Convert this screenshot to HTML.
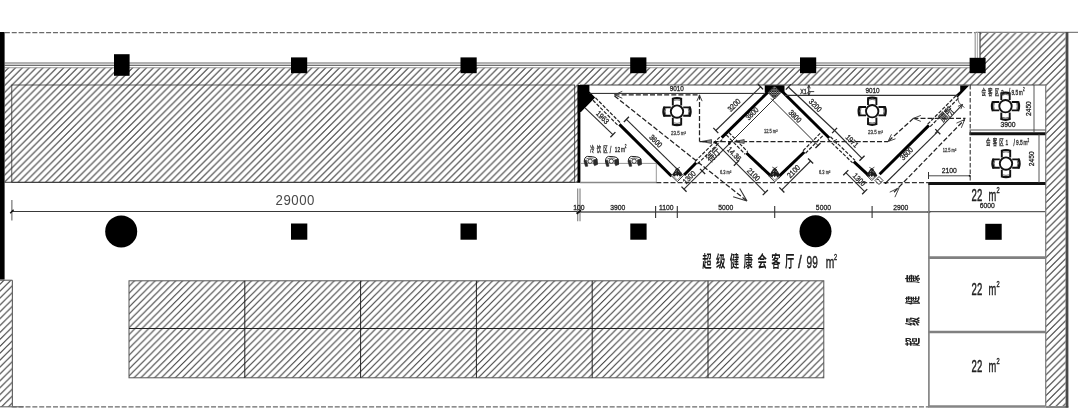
<!DOCTYPE html>
<html lang="zh"><head><meta charset="utf-8"><title>plan</title>
<style>html,body{margin:0;padding:0;background:#fff;}svg{display:block;}text{font-family:"Liberation Sans", "Noto Sans CJK SC", sans-serif;}</style></head><body>
<svg width="1080" height="416" viewBox="0 0 1080 416">
<defs><pattern id="h" width="6.895" height="6.895" patternUnits="userSpaceOnUse"><path d="M-1,1.470 L1.470,-1 M-1,8.365 L8.365,-1 M-1,15.260 L15.260,-1" stroke="#3c3c3c" stroke-width="1.08" fill="none"/></pattern><pattern id="hb" width="6.886" height="6.886" patternUnits="userSpaceOnUse"><path d="M-1,3.120 L3.120,-1 M-1,10.006 L10.006,-1 M-1,16.892 L16.892,-1" stroke="#3c3c3c" stroke-width="1.08" fill="none"/></pattern><pattern id="hl" width="6.9" height="6.9" patternUnits="userSpaceOnUse"><path d="M-1,2.300 L2.300,-1 M-1,9.200 L9.200,-1 M-1,16.100 L16.100,-1" stroke="#3c3c3c" stroke-width="1.08" fill="none"/></pattern><pattern id="x" width="2.4" height="2.4" patternUnits="userSpaceOnUse"><rect width="2.4" height="2.4" fill="#fff"/><path d="M0,0 L2.4,2.4 M2.4,0 L0,2.4" stroke="#111" stroke-width="0.85" fill="none"/></pattern><filter id="idf" x="0" y="0" width="1080" height="416" filterUnits="userSpaceOnUse" color-interpolation-filters="sRGB"><feOffset dx="0" dy="0"/></filter></defs>
<rect width="1080" height="416" fill="#fff"/>
<g filter="url(#idf)" style="will-change:transform">
<path d="M4.6,67.6 L980,67.6 L980,32 L1065.6,32 L1065.6,406 L1046,406 L1046,85 L578,85 L578,182.3 L4.6,182.3 Z" fill="url(#h)"/>
<line x1="4.60" y1="67.70" x2="970.00" y2="67.70" stroke="#999" stroke-width="1.1"/>
<line x1="4.60" y1="182.30" x2="578.00" y2="182.30" stroke="#444" stroke-width="1"/>
<line x1="580.00" y1="85.00" x2="1046.00" y2="85.00" stroke="#444" stroke-width="1"/>
<rect x="11.80" y="85.00" width="562.90" height="97.30" fill="none" stroke="#333" stroke-width="0.8"/>
<rect x="0.00" y="280.20" width="12.40" height="126.60" fill="url(#hl)"/>
<line x1="0.00" y1="280.20" x2="12.40" y2="280.20" stroke="#555" stroke-width="1"/>
<line x1="12.40" y1="280.20" x2="12.40" y2="406.80" stroke="#666" stroke-width="1.2"/>
<line x1="0.00" y1="406.80" x2="12.40" y2="406.80" stroke="#666" stroke-width="1.1"/>
<rect x="129.00" y="280.80" width="694.80" height="97.00" fill="url(#hb)" stroke="#555" stroke-width="1"/>
<line x1="129.00" y1="328.50" x2="823.80" y2="328.50" stroke="#222" stroke-width="1"/>
<line x1="244.80" y1="280.80" x2="244.80" y2="377.80" stroke="#222" stroke-width="1"/>
<line x1="360.60" y1="280.80" x2="360.60" y2="377.80" stroke="#222" stroke-width="1"/>
<line x1="476.40" y1="280.80" x2="476.40" y2="377.80" stroke="#222" stroke-width="1"/>
<line x1="592.20" y1="280.80" x2="592.20" y2="377.80" stroke="#222" stroke-width="1"/>
<line x1="708.00" y1="280.80" x2="708.00" y2="377.80" stroke="#222" stroke-width="1"/>
<line x1="4.85" y1="32.60" x2="975.70" y2="32.60" stroke="#6a6a6a" stroke-width="1.2" stroke-dasharray="5.02 1.853"/>
<line x1="975.70" y1="32.40" x2="1078.00" y2="32.40" stroke="#808080" stroke-width="1.1"/>
<line x1="4.60" y1="63.00" x2="970.00" y2="63.00" stroke="#999" stroke-width="1.4"/>
<line x1="4.60" y1="65.30" x2="970.00" y2="65.30" stroke="#404040" stroke-width="1.1"/>
<line x1="975.20" y1="32.00" x2="975.20" y2="58.00" stroke="#999" stroke-width="1.2"/>
<line x1="977.40" y1="32.00" x2="977.40" y2="58.00" stroke="#aaa" stroke-width="1.0"/>
<line x1="980.00" y1="32.00" x2="980.00" y2="58.00" stroke="#444" stroke-width="1.2"/>
<line x1="1067.00" y1="32.00" x2="1067.00" y2="407.60" stroke="#4a4a4a" stroke-width="2.8"/>
<line x1="11.72" y1="406.80" x2="928.50" y2="406.80" stroke="#6a6a6a" stroke-width="1.2" stroke-dasharray="5.02 1.853"/>
<line x1="12.50" y1="406.80" x2="23.50" y2="406.80" stroke="#6a6a6a" stroke-width="1.2"/>
<line x1="928.00" y1="406.50" x2="1045.70" y2="406.50" stroke="#858585" stroke-width="2.6"/>
<line x1="1045.70" y1="407.00" x2="1068.40" y2="407.00" stroke="#444" stroke-width="1.3"/>
<rect x="0.00" y="32.00" width="4.60" height="247.50" fill="#000"/>
<rect x="114.00" y="54.20" width="15.60" height="21.60" fill="#000"/>
<rect x="291.00" y="57.40" width="16.20" height="15.80" fill="#000"/>
<rect x="460.50" y="57.40" width="16.20" height="15.80" fill="#000"/>
<rect x="630.20" y="57.40" width="16.20" height="15.80" fill="#000"/>
<rect x="800.00" y="57.40" width="16.20" height="15.80" fill="#000"/>
<rect x="969.60" y="57.80" width="16.00" height="15.40" fill="#000"/>
<rect x="291.00" y="223.50" width="16.30" height="16.20" fill="#000"/>
<rect x="460.50" y="223.50" width="16.30" height="16.20" fill="#000"/>
<rect x="630.30" y="223.50" width="16.30" height="16.20" fill="#000"/>
<rect x="985.30" y="223.80" width="16.40" height="16.00" fill="#000"/>
<circle cx="121.2" cy="231.4" r="16" fill="#000"/>
<circle cx="815.5" cy="231.3" r="16" fill="#000"/>
<line x1="11.90" y1="211.50" x2="578.00" y2="211.50" stroke="#222" stroke-width="0.9"/>
<line x1="578.00" y1="212.00" x2="929.00" y2="212.00" stroke="#555" stroke-width="1.3"/>
<line x1="928.50" y1="211.70" x2="1045.40" y2="211.70" stroke="#333" stroke-width="1"/>
<line x1="11.90" y1="200.00" x2="11.90" y2="220.50" stroke="#444" stroke-width="0.9"/>
<line x1="10.20" y1="213.20" x2="13.60" y2="209.80" stroke="#111" stroke-width="1.4"/>
<line x1="577.70" y1="188.40" x2="577.70" y2="221.20" stroke="#888" stroke-width="1.2"/>
<line x1="580.00" y1="188.40" x2="580.00" y2="221.20" stroke="#888" stroke-width="1.2"/>
<line x1="576.60" y1="213.80" x2="581.00" y2="210.20" stroke="#111" stroke-width="2"/>
<line x1="655.60" y1="206.00" x2="655.60" y2="218.00" stroke="#333" stroke-width="1.1"/>
<line x1="677.30" y1="206.00" x2="677.30" y2="218.00" stroke="#333" stroke-width="1.1"/>
<line x1="774.70" y1="206.00" x2="774.70" y2="218.00" stroke="#333" stroke-width="1.1"/>
<line x1="872.10" y1="206.00" x2="872.10" y2="218.00" stroke="#333" stroke-width="1.1"/>
<circle cx="929" cy="212" r="1.3" fill="#111"/>
<circle cx="929" cy="183.4" r="1.0" fill="#111"/>
<text transform="translate(295.20,199.50) scale(0.86,1)" font-size="15.4" text-anchor="middle" fill="#4a4a4a" font-weight="normal" dominant-baseline="central" letter-spacing="0.6" stroke="#4a4a4a" stroke-width="0" >29000</text>
<text transform="translate(578.80,207.00) scale(0.85,1)" font-size="8" text-anchor="middle" fill="#222" font-weight="normal" dominant-baseline="central" stroke="#222" stroke-width="0.3" >100</text>
<text transform="translate(617.70,207.00) scale(0.85,1)" font-size="8" text-anchor="middle" fill="#222" font-weight="normal" dominant-baseline="central" stroke="#222" stroke-width="0.3" >3900</text>
<text transform="translate(666.30,207.00) scale(0.85,1)" font-size="8" text-anchor="middle" fill="#222" font-weight="normal" dominant-baseline="central" stroke="#222" stroke-width="0.3" >1100</text>
<text transform="translate(725.70,207.00) scale(0.85,1)" font-size="8" text-anchor="middle" fill="#222" font-weight="normal" dominant-baseline="central" stroke="#222" stroke-width="0.3" >5000</text>
<text transform="translate(823.40,207.00) scale(0.85,1)" font-size="8" text-anchor="middle" fill="#222" font-weight="normal" dominant-baseline="central" stroke="#222" stroke-width="0.3" >5000</text>
<text transform="translate(900.80,207.00) scale(0.85,1)" font-size="8" text-anchor="middle" fill="#222" font-weight="normal" dominant-baseline="central" stroke="#222" stroke-width="0.3" >2900</text>
<line x1="928.90" y1="183.00" x2="928.90" y2="406.00" stroke="#858585" stroke-width="1.7"/>
<line x1="1045.70" y1="85.00" x2="1045.70" y2="406.00" stroke="#808080" stroke-width="1.3"/>
<line x1="969.50" y1="133.70" x2="1045.40" y2="133.70" stroke="#111" stroke-width="3.0"/>
<line x1="969.50" y1="130.00" x2="1045.40" y2="130.00" stroke="#555" stroke-width="1.1"/>
<line x1="928.40" y1="183.50" x2="1045.40" y2="183.50" stroke="#111" stroke-width="2.8"/>
<line x1="928.50" y1="257.60" x2="1045.40" y2="257.60" stroke="#808080" stroke-width="2.8"/>
<line x1="928.50" y1="332.00" x2="1045.40" y2="332.00" stroke="#808080" stroke-width="2.4"/>
<line x1="1034.00" y1="85.00" x2="1034.00" y2="133.00" stroke="#444" stroke-width="0.9"/>
<line x1="1039.00" y1="134.00" x2="1039.00" y2="183.00" stroke="#444" stroke-width="0.9"/>
<line x1="970.20" y1="85.00" x2="970.20" y2="182.50" stroke="#333" stroke-width="1.1" stroke-dasharray="4.5 2"/>
<line x1="928.50" y1="175.80" x2="969.70" y2="175.80" stroke="#333" stroke-width="0.9"/>
<line x1="928.50" y1="172.00" x2="928.50" y2="179.00" stroke="#333" stroke-width="1"/>
<circle cx="969.7" cy="175.8" r="1" fill="#111"/>
<text transform="translate(949.20,170.60) scale(0.85,1)" font-size="8" text-anchor="middle" fill="#222" font-weight="normal" dominant-baseline="central" stroke="#222" stroke-width="0.3" >2100</text>
<text transform="translate(949.50,150.20) scale(0.8,1)" font-size="5" text-anchor="middle" fill="#444" font-weight="normal" dominant-baseline="central" stroke="#444" stroke-width="0.3" >12.5 m²</text>
<g transform="translate(1005.50,106.20)" fill="none" stroke="#111">
<g transform="rotate(0)"><path d="M-4.2,-6.2 L-4.2,-13 M4.2,-6.2 L4.2,-13" stroke-width="1.9"/><path d="M-4.9,-12.6 Q0,-14.6 4.9,-12.6" stroke-width="2.2"/><path d="M-3.4,-11.2 Q0,-12.4 3.4,-11.2" stroke-width="0.6"/></g>
<g transform="rotate(90)"><path d="M-4.2,-6.2 L-4.2,-13 M4.2,-6.2 L4.2,-13" stroke-width="1.9"/><path d="M-4.9,-12.6 Q0,-14.6 4.9,-12.6" stroke-width="2.2"/><path d="M-3.4,-11.2 Q0,-12.4 3.4,-11.2" stroke-width="0.6"/></g>
<g transform="rotate(180)"><path d="M-4.2,-6.2 L-4.2,-13 M4.2,-6.2 L4.2,-13" stroke-width="1.9"/><path d="M-4.9,-12.6 Q0,-14.6 4.9,-12.6" stroke-width="2.2"/><path d="M-3.4,-11.2 Q0,-12.4 3.4,-11.2" stroke-width="0.6"/></g>
<g transform="rotate(270)"><path d="M-4.2,-6.2 L-4.2,-13 M4.2,-6.2 L4.2,-13" stroke-width="1.9"/><path d="M-4.9,-12.6 Q0,-14.6 4.9,-12.6" stroke-width="2.2"/><path d="M-3.4,-11.2 Q0,-12.4 3.4,-11.2" stroke-width="0.6"/></g>
<circle r="6.2" stroke-width="1.9" fill="#fff"/>
</g>
<g transform="translate(1006.00,163.60)" fill="none" stroke="#111">
<g transform="rotate(0)"><path d="M-4.2,-6.2 L-4.2,-13 M4.2,-6.2 L4.2,-13" stroke-width="1.9"/><path d="M-4.9,-12.6 Q0,-14.6 4.9,-12.6" stroke-width="2.2"/><path d="M-3.4,-11.2 Q0,-12.4 3.4,-11.2" stroke-width="0.6"/></g>
<g transform="rotate(90)"><path d="M-4.2,-6.2 L-4.2,-13 M4.2,-6.2 L4.2,-13" stroke-width="1.9"/><path d="M-4.9,-12.6 Q0,-14.6 4.9,-12.6" stroke-width="2.2"/><path d="M-3.4,-11.2 Q0,-12.4 3.4,-11.2" stroke-width="0.6"/></g>
<g transform="rotate(180)"><path d="M-4.2,-6.2 L-4.2,-13 M4.2,-6.2 L4.2,-13" stroke-width="1.9"/><path d="M-4.9,-12.6 Q0,-14.6 4.9,-12.6" stroke-width="2.2"/><path d="M-3.4,-11.2 Q0,-12.4 3.4,-11.2" stroke-width="0.6"/></g>
<g transform="rotate(270)"><path d="M-4.2,-6.2 L-4.2,-13 M4.2,-6.2 L4.2,-13" stroke-width="1.9"/><path d="M-4.9,-12.6 Q0,-14.6 4.9,-12.6" stroke-width="2.2"/><path d="M-3.4,-11.2 Q0,-12.4 3.4,-11.2" stroke-width="0.6"/></g>
<circle r="6.2" stroke-width="1.9" fill="#fff"/>
</g>
<text transform="translate(981.40,95.00) scale(0.54,1)" font-size="8.2" letter-spacing="4.1" fill="#333" stroke="#333" stroke-width="0.4">会客区</text>
<text transform="translate(1001.00,95.00) scale(0.6,1)" font-size="8" fill="#333" stroke="#333" stroke-width="0.4">2</text>
<text transform="translate(1008.80,95.30) scale(0.6,1)" font-size="8.6" fill="#333" stroke="#333" stroke-width="0.4">/</text>
<text transform="translate(1011.40,95.00) scale(0.6,1)" font-size="8" fill="#333" stroke="#333" stroke-width="0.4">9.5</text>
<text transform="translate(1018.80,95.00) scale(0.6,1)" font-size="8" fill="#333" stroke="#333" stroke-width="0.4">m</text>
<text transform="translate(1023.00,91.40) scale(0.6,1)" font-size="5" fill="#333" stroke="#333" stroke-width="0.4">2</text>
<text transform="translate(986.00,145.30) scale(0.54,1)" font-size="8.2" letter-spacing="4.1" fill="#333" stroke="#333" stroke-width="0.4">会客区</text>
<text transform="translate(1005.60,145.30) scale(0.6,1)" font-size="8" fill="#333" stroke="#333" stroke-width="0.4">1</text>
<text transform="translate(1013.40,145.60) scale(0.6,1)" font-size="8.6" fill="#333" stroke="#333" stroke-width="0.4">/</text>
<text transform="translate(1016.00,145.30) scale(0.6,1)" font-size="8" fill="#333" stroke="#333" stroke-width="0.4">9.5</text>
<text transform="translate(1023.40,145.30) scale(0.6,1)" font-size="8" fill="#333" stroke="#333" stroke-width="0.4">m</text>
<text transform="translate(1027.60,141.70) scale(0.6,1)" font-size="5" fill="#333" stroke="#333" stroke-width="0.4">2</text>
<text transform="translate(1028.40,108.60) rotate(-90) scale(0.85,1)" font-size="7.8" text-anchor="middle" fill="#222" font-weight="normal" dominant-baseline="central" stroke="#222" stroke-width="0.3" >2450</text>
<text transform="translate(1031.20,158.80) rotate(-90) scale(0.85,1)" font-size="7.8" text-anchor="middle" fill="#222" font-weight="normal" dominant-baseline="central" stroke="#222" stroke-width="0.3" >2450</text>
<text transform="translate(1008.00,124.20) scale(0.85,1)" font-size="8" text-anchor="middle" fill="#222" font-weight="normal" dominant-baseline="central" stroke="#222" stroke-width="0.3" >3900</text>
<text transform="translate(987.30,205.80) scale(0.85,1)" font-size="8" text-anchor="middle" fill="#222" font-weight="normal" dominant-baseline="central" stroke="#222" stroke-width="0.3" >6000</text>
<text transform="translate(971.60,201.00) scale(0.58,1)" font-size="16.5" fill="#222" stroke="#222" stroke-width="0.45">22</text>
<text transform="translate(988.60,201.00) scale(0.56,1)" font-size="16.5" fill="#222" stroke="#222" stroke-width="0.45">m</text>
<text transform="translate(996.50,192.80) scale(0.6,1)" font-size="9.4" fill="#222" stroke="#222" stroke-width="0.45">2</text>
<text transform="translate(971.60,295.30) scale(0.58,1)" font-size="16.5" fill="#222" stroke="#222" stroke-width="0.45">22</text>
<text transform="translate(988.60,295.30) scale(0.56,1)" font-size="16.5" fill="#222" stroke="#222" stroke-width="0.45">m</text>
<text transform="translate(996.50,287.10) scale(0.6,1)" font-size="9.4" fill="#222" stroke="#222" stroke-width="0.45">2</text>
<text transform="translate(971.60,371.90) scale(0.58,1)" font-size="16.5" fill="#222" stroke="#222" stroke-width="0.45">22</text>
<text transform="translate(988.60,371.90) scale(0.56,1)" font-size="16.5" fill="#222" stroke="#222" stroke-width="0.45">m</text>
<text transform="translate(996.50,363.70) scale(0.6,1)" font-size="9.4" fill="#222" stroke="#222" stroke-width="0.45">2</text>
<text transform="translate(913.2,278.8) rotate(-90) scale(0.58,1)" font-size="15" text-anchor="middle" dominant-baseline="central" fill="#222" font-weight="700">康</text>
<text transform="translate(913.2,300.4) rotate(-90) scale(0.58,1)" font-size="15" text-anchor="middle" dominant-baseline="central" fill="#222" font-weight="700">健</text>
<text transform="translate(913.2,321.3) rotate(-90) scale(0.58,1)" font-size="15" text-anchor="middle" dominant-baseline="central" fill="#222" font-weight="700">级</text>
<text transform="translate(913.2,341.8) rotate(-90) scale(0.58,1)" font-size="15" text-anchor="middle" dominant-baseline="central" fill="#222" font-weight="700">超</text>
<text transform="translate(702.2,261.2) scale(0.6,1)" font-size="15.6" fill="#1a1a1a" dominant-baseline="central" letter-spacing="7.4" font-weight="700">超级健康会客厅</text>
<text transform="translate(798.0,267.9) scale(0.75,1)" font-size="18" stroke="#222" stroke-width="0.45" fill="#222">/</text>
<text transform="translate(806.6,267.9) scale(0.58,1)" font-size="17.4" stroke="#222" stroke-width="0.45" fill="#222">99</text>
<text transform="translate(825.8,267.9) scale(0.62,1)" font-size="16.5" stroke="#222" stroke-width="0.45" fill="#222">m</text>
<text transform="translate(833.9,259.8) scale(0.6,1)" font-size="9.2" stroke="#222" stroke-width="0.45" fill="#222">2</text>
<rect x="577.50" y="85.00" width="2.90" height="97.80" fill="#000"/>
<line x1="580.00" y1="163.40" x2="656.30" y2="163.40" stroke="#999" stroke-width="1.0"/>
<line x1="656.30" y1="163.40" x2="656.30" y2="182.40" stroke="#999" stroke-width="1.0"/>
<line x1="580.00" y1="182.50" x2="656.30" y2="182.50" stroke="#888" stroke-width="1.3"/>
<line x1="656.30" y1="182.60" x2="929.40" y2="182.60" stroke="#333" stroke-width="1.3" stroke-dasharray="5 2.1"/>
<g transform="translate(591.00,161.40)" fill="none" stroke="#222" stroke-width="1"><path d="M-6.7,1 Q-7,-4.4 -3.6,-5 L1.6,-4.7 Q5.4,-4.2 5.9,-2.4 L6.3,3"/><path d="M-4.6,-2.6 Q-2,-3.8 2.4,-3.2" stroke-width="0.7"/><path d="M-6.7,-0.8 L-4.7,-1.4 L-3.5,3 L-3.2,4.8 L-5.5,5 L-6.5,2 Z" fill="#2a2a2a" stroke-width="0.5"/><path d="M2.3,-1.5 L5.8,-2.6 L6.3,3.2 L3.5,4.3 L2.5,2 Z" fill="#2a2a2a" stroke-width="0.5"/><circle cx="-0.9" cy="-0.2" r="2.2" fill="#fff" stroke-width="0.9"/></g>
<g transform="translate(612.20,161.40)" fill="none" stroke="#222" stroke-width="1"><path d="M-6.7,1 Q-7,-4.4 -3.6,-5 L1.6,-4.7 Q5.4,-4.2 5.9,-2.4 L6.3,3"/><path d="M-4.6,-2.6 Q-2,-3.8 2.4,-3.2" stroke-width="0.7"/><path d="M-6.7,-0.8 L-4.7,-1.4 L-3.5,3 L-3.2,4.8 L-5.5,5 L-6.5,2 Z" fill="#2a2a2a" stroke-width="0.5"/><path d="M2.3,-1.5 L5.8,-2.6 L6.3,3.2 L3.5,4.3 L2.5,2 Z" fill="#2a2a2a" stroke-width="0.5"/><circle cx="-0.9" cy="-0.2" r="2.2" fill="#fff" stroke-width="0.9"/></g>
<g transform="translate(635.00,161.40)" fill="none" stroke="#222" stroke-width="1"><path d="M-6.7,1 Q-7,-4.4 -3.6,-5 L1.6,-4.7 Q5.4,-4.2 5.9,-2.4 L6.3,3"/><path d="M-4.6,-2.6 Q-2,-3.8 2.4,-3.2" stroke-width="0.7"/><path d="M-6.7,-0.8 L-4.7,-1.4 L-3.5,3 L-3.2,4.8 L-5.5,5 L-6.5,2 Z" fill="#2a2a2a" stroke-width="0.5"/><path d="M2.3,-1.5 L5.8,-2.6 L6.3,3.2 L3.5,4.3 L2.5,2 Z" fill="#2a2a2a" stroke-width="0.5"/><circle cx="-0.9" cy="-0.2" r="2.2" fill="#fff" stroke-width="0.9"/></g>
<text transform="translate(590.00,151.90) scale(0.54,1)" font-size="8.2" letter-spacing="4.1" fill="#333" stroke="#333" stroke-width="0.4">冷饮区</text>
<text transform="translate(609.80,152.50) scale(0.6,1)" font-size="9.4" fill="#333" stroke="#333" stroke-width="0.4">/</text>
<text transform="translate(614.80,151.90) scale(0.6,1)" font-size="8" fill="#333" stroke="#333" stroke-width="0.4">12</text>
<text transform="translate(621.00,151.90) scale(0.6,1)" font-size="8" fill="#333" stroke="#333" stroke-width="0.4">m</text>
<text transform="translate(624.80,148.30) scale(0.6,1)" font-size="5" fill="#333" stroke="#333" stroke-width="0.4">2</text>
<path d="M577.8,85 L589.4,85 L589.4,91.5 L595.2,97.6 L581,112 L577.8,112 Z" fill="#000"/>
<rect x="764.75" y="85.30" width="19.75" height="7.50" fill="#000"/>
<path d="M960.2,85.4 L969.2,85.4 L957.6,97.6 L955.4,95.6 L960.2,91 Z" fill="#000"/>
<line x1="592.96" y1="100.23" x2="618.16" y2="125.63" stroke="#222" stroke-width="1.2" stroke-dasharray="3.6 1.6"/>
<line x1="595.44" y1="97.77" x2="620.64" y2="123.17" stroke="#222" stroke-width="1.2" stroke-dasharray="3.6 1.6"/>
<line x1="619.40" y1="124.40" x2="671.60" y2="176.20" stroke="#000" stroke-width="3.0"/>
<line x1="684.10" y1="175.00" x2="696.20" y2="162.80" stroke="#000" stroke-width="3.0"/>
<line x1="697.43" y1="164.04" x2="722.93" y2="138.84" stroke="#222" stroke-width="1.2" stroke-dasharray="3.6 1.6"/>
<line x1="694.97" y1="161.56" x2="720.47" y2="136.36" stroke="#222" stroke-width="1.2" stroke-dasharray="3.6 1.6"/>
<line x1="721.70" y1="137.60" x2="768.60" y2="91.50" stroke="#000" stroke-width="3.0"/>
<line x1="782.20" y1="91.50" x2="829.20" y2="138.00" stroke="#000" stroke-width="3.0"/>
<line x1="827.99" y1="139.26" x2="852.59" y2="162.86" stroke="#222" stroke-width="1.2" stroke-dasharray="3.6 1.6"/>
<line x1="830.41" y1="136.74" x2="855.01" y2="160.34" stroke="#222" stroke-width="1.2" stroke-dasharray="3.6 1.6"/>
<line x1="853.80" y1="161.60" x2="868.60" y2="175.40" stroke="#000" stroke-width="3.0"/>
<line x1="879.60" y1="174.20" x2="928.90" y2="125.40" stroke="#000" stroke-width="3.0"/>
<line x1="930.14" y1="126.64" x2="958.24" y2="98.44" stroke="#222" stroke-width="1.2" stroke-dasharray="3.6 1.6"/>
<line x1="927.66" y1="124.16" x2="955.76" y2="95.96" stroke="#222" stroke-width="1.2" stroke-dasharray="3.6 1.6"/>
<line x1="726.25" y1="134.82" x2="745.15" y2="154.22" stroke="#222" stroke-width="1.2" stroke-dasharray="3.6 1.6"/>
<line x1="728.75" y1="132.38" x2="747.65" y2="151.78" stroke="#222" stroke-width="1.2" stroke-dasharray="3.6 1.6"/>
<line x1="746.40" y1="153.00" x2="772.60" y2="177.60" stroke="#000" stroke-width="3.0"/>
<line x1="777.60" y1="177.60" x2="804.30" y2="152.00" stroke="#000" stroke-width="3.0"/>
<line x1="805.55" y1="153.23" x2="823.85" y2="134.63" stroke="#222" stroke-width="1.2" stroke-dasharray="3.6 1.6"/>
<line x1="803.05" y1="150.77" x2="821.35" y2="132.17" stroke="#222" stroke-width="1.2" stroke-dasharray="3.6 1.6"/>
<path d="M671.22,175.60 L677.30,169.52 L683.38,175.60 L677.30,181.68 Z" fill="#fff" stroke="#222" stroke-width="0.9"/>
<path d="M672.92,175.60 L677.30,171.22 L681.68,175.60 L677.30,179.98 Z" fill="none" stroke="#444" stroke-width="0.6"/>
<path d="M672.30,175.20 L674.20,171.65 L676.10,169.06 L677.30,168.00 L678.50,169.06 L680.40,171.65 L682.30,175.20 L679.55,176.50 L678.60,174.70 L677.30,176.60 L676.00,174.70 L675.05,176.50 Z" fill="#1c1c1c"/>
<path d="M675.70,171.80 l1.2,-1.6 M678.10,170.89 l1.3,1.4 M675.10,173.60 l1.4,-0.6" stroke="#ddd" stroke-width="0.6" fill="none"/>
<path d="M674.90,167.40 L679.50,170.00 M679.90,167.20 L675.10,170.20" stroke="#222" stroke-width="0.8" fill="none"/>
<path d="M769.18,176.30 L774.70,170.78 L780.22,176.30 L774.70,181.82 Z" fill="#fff" stroke="#222" stroke-width="0.9"/>
<path d="M770.88,176.30 L774.70,172.48 L778.52,176.30 L774.70,180.12 Z" fill="none" stroke="#444" stroke-width="0.6"/>
<path d="M769.10,175.90 L771.23,171.83 L773.50,168.90 L774.70,167.70 L775.90,168.90 L778.17,171.83 L780.30,175.90 L777.22,177.20 L776.00,175.40 L774.70,177.30 L773.40,175.40 L772.18,177.20 Z" fill="#1c1c1c"/>
<path d="M773.10,172.00 l1.2,-1.6 M775.50,170.97 l1.3,1.4 M772.50,174.30 l1.4,-0.6" stroke="#ddd" stroke-width="0.6" fill="none"/>
<path d="M772.30,167.10 L776.90,169.70 M777.30,166.90 L772.50,169.90" stroke="#222" stroke-width="0.8" fill="none"/>
<path d="M867.42,176.20 L871.80,171.82 L876.18,176.20 L871.80,180.58 Z" fill="#fff" stroke="#222" stroke-width="0.9"/>
<path d="M869.12,176.20 L871.80,173.52 L874.48,176.20 L871.80,178.88 Z" fill="none" stroke="#444" stroke-width="0.6"/>
<path d="M866.20,175.80 L868.33,171.94 L870.60,169.15 L871.80,168.00 L873.00,169.15 L875.27,171.94 L877.40,175.80 L874.32,177.10 L873.10,175.30 L871.80,177.20 L870.50,175.30 L869.28,177.10 Z" fill="#1c1c1c"/>
<path d="M870.20,172.10 l1.2,-1.6 M872.60,171.12 l1.3,1.4 M869.60,174.20 l1.4,-0.6" stroke="#ddd" stroke-width="0.6" fill="none"/>
<path d="M869.40,167.40 L874.00,170.00 M874.40,167.20 L869.60,170.20" stroke="#222" stroke-width="0.8" fill="none"/>
<path d="M875,180.5 L879,176.5 L883,180.5 L879,184.5 Z" fill="#fff" stroke="#222" stroke-width="0.9"/>
<path d="M876.8,180 Q878.2,177.8 879.2,180.4 T881.4,181.4" fill="none" stroke="#222" stroke-width="0.9"/>
<path d="M768,92.5 L774.5,86 L781,92.5 L774.5,99 Z" fill="url(#x)" stroke="#222" stroke-width="0.8"/>
<line x1="589.40" y1="93.40" x2="764.80" y2="93.40" stroke="#222" stroke-width="1"/>
<line x1="784.20" y1="95.40" x2="958.00" y2="95.40" stroke="#333" stroke-width="1.3"/>
<text transform="translate(676.80,88.60) scale(0.85,1)" font-size="7.5" text-anchor="middle" fill="#222" font-weight="normal" dominant-baseline="central" stroke="#222" stroke-width="0.3" >9010</text>
<text transform="translate(872.50,90.20) scale(0.85,1)" font-size="7.5" text-anchor="middle" fill="#222" font-weight="normal" dominant-baseline="central" stroke="#222" stroke-width="0.3" >9010</text>
<line x1="614.50" y1="94.80" x2="699.50" y2="94.80" stroke="#222" stroke-width="1.25" stroke-dasharray="5 2.1"/>
<line x1="699.50" y1="94.80" x2="699.50" y2="141.50" stroke="#222" stroke-width="1.25" stroke-dasharray="5 2.1"/>
<line x1="699.50" y1="141.50" x2="888.00" y2="141.50" stroke="#222" stroke-width="1.25" stroke-dasharray="5 2.1"/>
<line x1="614.50" y1="96.00" x2="746.40" y2="200.50" stroke="#222" stroke-width="1.25" stroke-dasharray="5 2.1"/>
<line x1="614.50" y1="94.80" x2="622.27" y2="91.34" stroke="#333" stroke-width="0.9"/>
<line x1="614.50" y1="94.80" x2="622.27" y2="98.26" stroke="#333" stroke-width="0.9"/>
<line x1="699.50" y1="95.20" x2="702.14" y2="101.14" stroke="#333" stroke-width="0.9"/>
<line x1="699.50" y1="95.20" x2="696.86" y2="101.14" stroke="#333" stroke-width="0.9"/>
<line x1="747.00" y1="201.00" x2="733.13" y2="196.78" stroke="#333" stroke-width="1.1"/>
<line x1="747.00" y1="201.00" x2="739.73" y2="188.46" stroke="#333" stroke-width="1.1"/>
<path d="M702.00,141.50 L711.50,139.50 L711.50,143.50 Z" fill="#808080" stroke="#333" stroke-width="0.7"/>
<path d="M702.00,141.50 L707.23,141.50" stroke="#222" stroke-width="1.2"/>
<path d="M734.70,141.50 L744.20,139.50 L744.20,143.50 Z" fill="#808080" stroke="#333" stroke-width="0.7"/>
<path d="M734.70,141.50 L739.93,141.50" stroke="#222" stroke-width="1.2"/>
<line x1="833.00" y1="141.50" x2="836.97" y2="139.39" stroke="#333" stroke-width="0.9"/>
<line x1="833.00" y1="141.50" x2="836.97" y2="143.61" stroke="#333" stroke-width="0.9"/>
<line x1="913.40" y1="118.40" x2="965.50" y2="118.40" stroke="#222" stroke-width="1.25" stroke-dasharray="5 2.1"/>
<line x1="913.40" y1="118.40" x2="888.00" y2="141.50" stroke="#222" stroke-width="1.25" stroke-dasharray="5 2.1"/>
<line x1="913.40" y1="118.40" x2="920.82" y2="115.40" stroke="#333" stroke-width="0.9"/>
<line x1="913.40" y1="118.40" x2="920.82" y2="121.40" stroke="#333" stroke-width="0.9"/>
<line x1="888.00" y1="141.50" x2="891.51" y2="134.31" stroke="#333" stroke-width="0.9"/>
<line x1="888.00" y1="141.50" x2="895.52" y2="138.76" stroke="#333" stroke-width="0.9"/>
<line x1="894.00" y1="192.20" x2="964.70" y2="119.50" stroke="#222" stroke-width="1.25" stroke-dasharray="5 2.1"/>
<line x1="964.70" y1="119.50" x2="961.30" y2="127.83" stroke="#333" stroke-width="0.9"/>
<line x1="964.70" y1="119.50" x2="956.47" y2="123.13" stroke="#333" stroke-width="0.9"/>
<line x1="899.20" y1="187.60" x2="894.90" y2="197.18" stroke="#333" stroke-width="0.9"/>
<line x1="899.20" y1="187.60" x2="889.75" y2="192.17" stroke="#333" stroke-width="0.9"/>
<line x1="585.00" y1="107.80" x2="612.90" y2="134.70" stroke="#2a2a2a" stroke-width="1.1"/>
<line x1="615.40" y1="132.11" x2="610.40" y2="137.29" stroke="#222" stroke-width="1.3"/>
<text transform="translate(602.60,117.40) rotate(45) scale(0.85,1)" font-size="7.8" text-anchor="middle" fill="#222" font-weight="normal" dominant-baseline="central" stroke="#222" stroke-width="0.3" >1963</text>
<line x1="626.40" y1="119.40" x2="681.80" y2="173.60" stroke="#2a2a2a" stroke-width="1.1"/>
<line x1="628.92" y1="116.83" x2="623.88" y2="121.97" stroke="#222" stroke-width="1.3"/>
<text transform="translate(655.80,141.00) rotate(45) scale(0.85,1)" font-size="7.8" text-anchor="middle" fill="#222" font-weight="normal" dominant-baseline="central" stroke="#222" stroke-width="0.3" >3600</text>
<line x1="684.00" y1="189.20" x2="731.00" y2="142.20" stroke="#2a2a2a" stroke-width="1.1"/>
<line x1="681.45" y1="186.65" x2="686.55" y2="191.75" stroke="#222" stroke-width="1.3"/>
<line x1="700.05" y1="168.85" x2="705.15" y2="173.95" stroke="#222" stroke-width="1.3"/>
<text transform="translate(689.20,177.40) rotate(-45) scale(0.85,1)" font-size="7.8" text-anchor="middle" fill="#222" font-weight="normal" dominant-baseline="central" stroke="#222" stroke-width="0.3" >1300</text>
<text transform="translate(713.60,155.00) rotate(-45) scale(0.8,1)" font-size="9.6" text-anchor="middle" fill="#222" font-weight="normal" dominant-baseline="central" stroke="#222" stroke-width="0.3" >待厅</text>
<line x1="715.80" y1="130.50" x2="760.60" y2="86.80" stroke="#2a2a2a" stroke-width="1.1"/>
<line x1="713.29" y1="127.92" x2="718.31" y2="133.08" stroke="#222" stroke-width="1.3"/>
<line x1="758.09" y1="84.22" x2="763.11" y2="89.38" stroke="#222" stroke-width="1.3"/>
<text transform="translate(734.00,105.20) rotate(-45) scale(0.85,1)" font-size="7.8" text-anchor="middle" fill="#222" font-weight="normal" dominant-baseline="central" stroke="#222" stroke-width="0.3" >3200</text>
<line x1="731.00" y1="142.00" x2="775.00" y2="98.00" stroke="#2a2a2a" stroke-width="1.0"/>
<text transform="translate(752.00,113.60) rotate(-45) scale(0.85,1)" font-size="7.8" text-anchor="middle" fill="#222" font-weight="normal" dominant-baseline="central" stroke="#222" stroke-width="0.3" >3800</text>
<line x1="771.00" y1="98.50" x2="818.50" y2="146.00" stroke="#2a2a2a" stroke-width="1.0"/>
<line x1="820.55" y1="142.95" x2="815.45" y2="148.05" stroke="#222" stroke-width="1.3"/>
<text transform="translate(795.00,116.20) rotate(45) scale(0.85,1)" font-size="7.8" text-anchor="middle" fill="#222" font-weight="normal" dominant-baseline="central" stroke="#222" stroke-width="0.3" >3800</text>
<line x1="788.30" y1="87.00" x2="834.60" y2="130.50" stroke="#2a2a2a" stroke-width="1.1"/>
<line x1="790.77" y1="84.38" x2="785.83" y2="89.62" stroke="#222" stroke-width="1.3"/>
<line x1="837.07" y1="127.88" x2="832.13" y2="133.12" stroke="#222" stroke-width="1.3"/>
<text transform="translate(815.40,105.40) rotate(45) scale(0.85,1)" font-size="7.8" text-anchor="middle" fill="#222" font-weight="normal" dominant-baseline="central" stroke="#222" stroke-width="0.3" >3200</text>
<line x1="834.60" y1="130.50" x2="862.00" y2="158.30" stroke="#2a2a2a" stroke-width="1.1"/>
<line x1="864.56" y1="155.77" x2="859.44" y2="160.83" stroke="#222" stroke-width="1.3"/>
<text transform="translate(852.00,141.00) rotate(45) scale(0.85,1)" font-size="7.8" text-anchor="middle" fill="#222" font-weight="normal" dominant-baseline="central" stroke="#222" stroke-width="0.3" >1971</text>
<line x1="715.70" y1="142.70" x2="765.30" y2="192.60" stroke="#2a2a2a" stroke-width="1.1"/>
<line x1="767.85" y1="190.06" x2="762.75" y2="195.14" stroke="#222" stroke-width="1.3"/>
<line x1="738.95" y1="160.65" x2="733.85" y2="165.75" stroke="#222" stroke-width="1.3"/>
<text transform="translate(734.20,154.00) rotate(45) scale(0.85,1)" font-size="7.8" text-anchor="middle" fill="#222" font-weight="normal" dominant-baseline="central" stroke="#222" stroke-width="0.3" >14.36</text>
<text transform="translate(753.60,174.50) rotate(45) scale(0.85,1)" font-size="7.8" text-anchor="middle" fill="#222" font-weight="normal" dominant-baseline="central" stroke="#222" stroke-width="0.3" >2100</text>
<line x1="781.80" y1="189.90" x2="810.60" y2="161.00" stroke="#2a2a2a" stroke-width="1.1"/>
<line x1="779.25" y1="187.36" x2="784.35" y2="192.44" stroke="#222" stroke-width="1.3"/>
<line x1="808.05" y1="158.46" x2="813.15" y2="163.54" stroke="#222" stroke-width="1.3"/>
<text transform="translate(793.50,171.40) rotate(-45) scale(0.85,1)" font-size="7.8" text-anchor="middle" fill="#222" font-weight="normal" dominant-baseline="central" stroke="#222" stroke-width="0.3" >2100</text>
<line x1="845.80" y1="172.70" x2="864.70" y2="191.70" stroke="#2a2a2a" stroke-width="1.1"/>
<line x1="848.35" y1="170.16" x2="843.25" y2="175.24" stroke="#222" stroke-width="1.3"/>
<line x1="867.25" y1="189.16" x2="862.15" y2="194.24" stroke="#222" stroke-width="1.3"/>
<text transform="translate(859.30,179.60) rotate(45) scale(0.85,1)" font-size="7.8" text-anchor="middle" fill="#222" font-weight="normal" dominant-baseline="central" stroke="#222" stroke-width="0.3" >1300</text>
<line x1="885.60" y1="183.00" x2="937.80" y2="131.70" stroke="#2a2a2a" stroke-width="1.1"/>
<line x1="935.28" y1="129.13" x2="940.32" y2="134.27" stroke="#222" stroke-width="1.3"/>
<circle cx="885.6" cy="183" r="1.1" fill="#111"/>
<text transform="translate(906.60,153.60) rotate(-45) scale(0.85,1)" font-size="7.8" text-anchor="middle" fill="#222" font-weight="normal" dominant-baseline="central" stroke="#222" stroke-width="0.3" >3600</text>
<line x1="935.00" y1="133.60" x2="962.60" y2="104.40" stroke="#2a2a2a" stroke-width="1.1"/>
<line x1="962.60" y1="104.40" x2="960.89" y2="109.10" stroke="#333" stroke-width="0.9"/>
<line x1="962.60" y1="104.40" x2="957.96" y2="106.27" stroke="#333" stroke-width="0.9"/>
<path d="M958,97 Q957,103 964.5,107.5" fill="none" stroke="#333" stroke-width="0.8"/>
<text transform="translate(946.30,114.60) rotate(-45) scale(0.8,1)" font-size="10" text-anchor="middle" fill="#222" font-weight="normal" dominant-baseline="central" stroke="#222" stroke-width="0.3" >厕所</text>
<circle cx="715.6" cy="142.6" r="1.3" fill="#111"/>
<circle cx="729.3" cy="143.4" r="1.3" fill="#111"/>
<line x1="808.80" y1="85.00" x2="808.80" y2="95.40" stroke="#222" stroke-width="1.1"/>
<line x1="808.80" y1="91.60" x2="814.20" y2="91.60" stroke="#222" stroke-width="0.9"/>
<text transform="translate(803.40,91.00) scale(0.75,1)" font-size="7" text-anchor="middle" fill="#222" font-weight="normal" dominant-baseline="central" stroke="#222" stroke-width="0.3" >X1</text>
<line x1="808.80" y1="95.40" x2="807.32" y2="92.23" stroke="#333" stroke-width="0.9"/>
<line x1="808.80" y1="95.40" x2="810.28" y2="92.23" stroke="#333" stroke-width="0.9"/>
<line x1="808.80" y1="85.20" x2="810.28" y2="88.37" stroke="#333" stroke-width="0.9"/>
<line x1="808.80" y1="85.20" x2="807.32" y2="88.37" stroke="#333" stroke-width="0.9"/>
<text transform="translate(678.50,132.40) scale(0.8,1)" font-size="5.6" text-anchor="middle" fill="#444" font-weight="normal" dominant-baseline="central" stroke="#444" stroke-width="0.3" >23.5 m²</text>
<text transform="translate(875.50,131.60) scale(0.8,1)" font-size="5.6" text-anchor="middle" fill="#444" font-weight="normal" dominant-baseline="central" stroke="#444" stroke-width="0.3" >23.5 m²</text>
<text transform="translate(770.70,131.60) scale(0.8,1)" font-size="5" text-anchor="middle" fill="#444" font-weight="normal" dominant-baseline="central" stroke="#444" stroke-width="0.3" >12.5 m²</text>
<text transform="translate(725.60,172.20) scale(0.8,1)" font-size="5" text-anchor="middle" fill="#444" font-weight="normal" dominant-baseline="central" stroke="#444" stroke-width="0.3" >6.3 m²</text>
<text transform="translate(824.70,172.20) scale(0.8,1)" font-size="5" text-anchor="middle" fill="#444" font-weight="normal" dominant-baseline="central" stroke="#444" stroke-width="0.3" >6.3 m²</text>
<g transform="translate(677.00,111.60)" fill="none" stroke="#111">
<g transform="rotate(0)"><path d="M-4.2,-6.2 L-4.2,-13 M4.2,-6.2 L4.2,-13" stroke-width="1.9"/><path d="M-4.9,-12.6 Q0,-14.6 4.9,-12.6" stroke-width="2.2"/><path d="M-3.4,-11.2 Q0,-12.4 3.4,-11.2" stroke-width="0.6"/></g>
<g transform="rotate(90)"><path d="M-4.2,-6.2 L-4.2,-13 M4.2,-6.2 L4.2,-13" stroke-width="1.9"/><path d="M-4.9,-12.6 Q0,-14.6 4.9,-12.6" stroke-width="2.2"/><path d="M-3.4,-11.2 Q0,-12.4 3.4,-11.2" stroke-width="0.6"/></g>
<g transform="rotate(180)"><path d="M-4.2,-6.2 L-4.2,-13 M4.2,-6.2 L4.2,-13" stroke-width="1.9"/><path d="M-4.9,-12.6 Q0,-14.6 4.9,-12.6" stroke-width="2.2"/><path d="M-3.4,-11.2 Q0,-12.4 3.4,-11.2" stroke-width="0.6"/></g>
<g transform="rotate(270)"><path d="M-4.2,-6.2 L-4.2,-13 M4.2,-6.2 L4.2,-13" stroke-width="1.9"/><path d="M-4.9,-12.6 Q0,-14.6 4.9,-12.6" stroke-width="2.2"/><path d="M-3.4,-11.2 Q0,-12.4 3.4,-11.2" stroke-width="0.6"/></g>
<circle r="6.2" stroke-width="1.9" fill="#fff"/>
</g>
<g transform="translate(872.20,111.20)" fill="none" stroke="#111">
<g transform="rotate(0)"><path d="M-4.2,-6.2 L-4.2,-13 M4.2,-6.2 L4.2,-13" stroke-width="1.9"/><path d="M-4.9,-12.6 Q0,-14.6 4.9,-12.6" stroke-width="2.2"/><path d="M-3.4,-11.2 Q0,-12.4 3.4,-11.2" stroke-width="0.6"/></g>
<g transform="rotate(90)"><path d="M-4.2,-6.2 L-4.2,-13 M4.2,-6.2 L4.2,-13" stroke-width="1.9"/><path d="M-4.9,-12.6 Q0,-14.6 4.9,-12.6" stroke-width="2.2"/><path d="M-3.4,-11.2 Q0,-12.4 3.4,-11.2" stroke-width="0.6"/></g>
<g transform="rotate(180)"><path d="M-4.2,-6.2 L-4.2,-13 M4.2,-6.2 L4.2,-13" stroke-width="1.9"/><path d="M-4.9,-12.6 Q0,-14.6 4.9,-12.6" stroke-width="2.2"/><path d="M-3.4,-11.2 Q0,-12.4 3.4,-11.2" stroke-width="0.6"/></g>
<g transform="rotate(270)"><path d="M-4.2,-6.2 L-4.2,-13 M4.2,-6.2 L4.2,-13" stroke-width="1.9"/><path d="M-4.9,-12.6 Q0,-14.6 4.9,-12.6" stroke-width="2.2"/><path d="M-3.4,-11.2 Q0,-12.4 3.4,-11.2" stroke-width="0.6"/></g>
<circle r="6.2" stroke-width="1.9" fill="#fff"/>
</g>
</g></svg></body></html>
